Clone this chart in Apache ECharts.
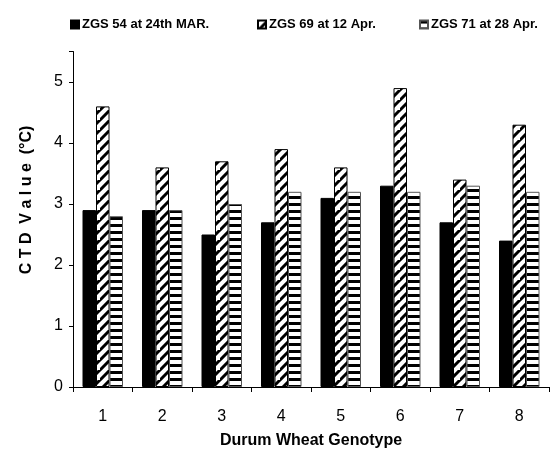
<!DOCTYPE html>
<html>
<head>
<meta charset="utf-8">
<script src="https://cdn.jsdelivr.net/npm/echarts@6/dist/echarts.min.js"></script>
<style>
  html, body { margin: 0; padding: 0; background: #fff; }
  #chart { width: 550px; height: 454px; }
</style>
</head>
<body>
<div id="chart"></div>
<script>
// genotypes on the x axis
const genotypes = ['1', '2', '3', '4', '5', '6', '7', '8']
// CTD values (°C) per sampling date
const zgs54 = [2.9, 2.9, 2.5, 2.7, 3.1, 3.3, 2.7, 2.4]
const zgs69 = [4.6, 3.6, 3.7, 3.9, 3.6, 4.9, 3.4, 4.3]
const zgs71 = [2.8, 2.9, 3.0, 3.2, 3.2, 3.2, 3.3, 3.2]
const seriesNames = ['ZGS 54 at 24th MAR.', 'ZGS 69 at 12 Apr.', 'ZGS 71 at 28 Apr.']

const FONT = '"Liberation Sans", Arial, sans-serif'

// diagonal hatch (/)
function diagPattern() {
  const c = document.createElement('canvas')
  const s = 10
  c.width = s
  c.height = s
  const ctx = c.getContext('2d')
  ctx.fillStyle = '#fff'
  ctx.fillRect(0, 0, s, s)
  ctx.strokeStyle = '#000'
  ctx.lineWidth = 3
  ctx.beginPath()
  ctx.moveTo(-2, s + 2); ctx.lineTo(s + 2, -2)
  ctx.moveTo(-2 - s, s + 2); ctx.lineTo(2, -2)
  ctx.moveTo(s - 2, 2 * s + 2); ctx.lineTo(2 * s + 2, s - 2)
  ctx.stroke()
  return c
}

// horizontal stripes
function horizPattern() {
  const c = document.createElement('canvas')
  c.width = 4
  c.height = 7
  const ctx = c.getContext('2d')
  ctx.fillStyle = '#fff'
  ctx.fillRect(0, 0, 4, 7)
  ctx.fillStyle = '#000'
  ctx.fillRect(0, 0, 4, 3)
  return c
}

const chart = echarts.init(document.getElementById('chart'), null, { renderer: 'canvas' })

const legendBase = {
  top: 13,
  itemWidth: 8,
  itemHeight: 8,
  itemGap: 3,
  icon: 'rect',
  textStyle: { fontFamily: FONT, fontSize: 13, fontWeight: 'bold', color: '#000', padding: [0, 0, 0, -2] }
}

const option = {
  backgroundColor: '#fff',
  animation: false,
  legend: [
    Object.assign({ left: 65, data: [seriesNames[0]] }, legendBase),
    Object.assign({ left: 252, data: [seriesNames[1]] }, legendBase),
    Object.assign({ left: 414, data: [seriesNames[2]] }, legendBase)
  ],
  grid: { left: 73, right: 1, top: 51.5, bottom: 61.5, containLabel: false },
  xAxis: {
    type: 'category',
    data: genotypes,
    name: 'Durum Wheat Genotype',
    nameLocation: 'middle',
    nameGap: 46,
    nameTextStyle: { fontFamily: FONT, fontSize: 16, fontWeight: 'bold', color: '#000' },
    axisLine: { lineStyle: { color: '#000', width: 1 } },
    axisTick: { show: true, length: 5, lineStyle: { color: '#000' } },
    axisLabel: { fontFamily: FONT, fontSize: 16, color: '#000', margin: 22 }
  },
  yAxis: {
    type: 'value',
    min: 0,
    max: 5.5,
    interval: 1,
    axisLine: { show: true, lineStyle: { color: '#000', width: 1 } },
    axisTick: { show: true, length: 4, lineStyle: { color: '#000' } },
    splitLine: { show: false },
    axisLabel: {
      fontFamily: FONT, fontSize: 16, color: '#000', margin: 10,
      formatter: function (v) { return Number.isInteger(v) ? String(v) : '' }
    }
  },
  graphic: [{
    type: 'text',
    x: 27,
    y: 200,
    rotation: Math.PI / 2,
    style: {
      text: 'C T D  V a l u e  (°C)',
      fontFamily: FONT,
      fontSize: 16,
      fontWeight: 'bold',
      fill: '#000',
      textAlign: 'center',
      textVerticalAlign: 'middle'
    }
  }],
  series: [
    {
      name: seriesNames[0],
      type: 'bar',
      data: zgs54,
      barWidth: 13.5,
      barGap: '0%',
      itemStyle: { color: '#000', borderColor: '#000', borderWidth: 1 }
    },
    {
      name: seriesNames[1],
      type: 'bar',
      data: zgs69,
      barWidth: 13.5,
      barGap: '0%',
      itemStyle: { color: { image: diagPattern(), repeat: 'repeat' }, borderColor: '#000', borderWidth: 1 }
    },
    {
      name: seriesNames[2],
      type: 'bar',
      data: zgs71,
      barWidth: 13.5,
      barGap: '0%',
      itemStyle: { color: { image: horizPattern(), repeat: 'repeat' }, borderColor: '#555', borderWidth: 1 }
    }
  ]
}

chart.setOption(option)
</script>
</body>
</html>
